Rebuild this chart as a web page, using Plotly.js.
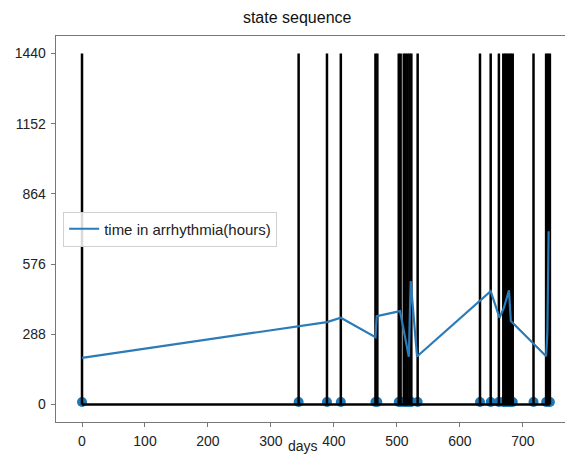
<!DOCTYPE html>
<html>
<head>
<meta charset="utf-8">
<script src="https://cdn.plot.ly/plotly-3.0.1.min.js"></script>
<style>html,body{margin:0;padding:0;background:#fff}#chart{width:565px;height:457px}</style>
</head>
<body>
<div id="chart"></div>
<script>
// stem (state change) days
const stemDays = [0, 344, 389, 411, 466, 469, 503, 506, 511, 514, 517, 520, 523, 533,
  632, 649, 662, 669, 672, 675, 678, 681, 684, 717, 737, 740, 743];
const stemHeight = 1440;
const markerLevel = 10;

// time in arrhythmia (hours) series
const arrDays  = [0, 389, 411, 466, 468, 505, 519, 522, 532, 649, 663, 670, 678, 681, 737, 739, 741];
const arrHours = [191, 338, 356, 276, 362, 383, 196, 506, 197, 465, 356, 397, 468, 342, 198, 296, 711];

const yTicks = [0, 288, 576, 864, 1152, 1440];
const xTicks = [0, 100, 200, 300, 400, 500, 600, 700];

const stemX = [], stemY = [];
stemDays.forEach(d => { stemX.push(d, d, null); stemY.push(0, stemHeight, null); });

const traces = [
  {x: stemDays, y: stemDays.map(() => markerLevel), mode: 'markers', type: 'scatter',
   marker: {color: '#1f77b4', size: 10}, showlegend: false, hoverinfo: 'skip'},
  {x: stemX, y: stemY, mode: 'lines', type: 'scatter',
   line: {color: '#000', width: 2.5}, showlegend: false, hoverinfo: 'skip'},
  {x: [stemDays[0], stemDays[stemDays.length - 1]], y: [0, 0], mode: 'lines', type: 'scatter',
   line: {color: '#000', width: 2.5}, showlegend: false, hoverinfo: 'skip'},
  {x: arrDays, y: arrHours, mode: 'lines', type: 'scatter', name: 'time in arrhythmia(hours)',
   line: {color: '#2b7bb9', width: 2.2}}
];

const axisCommon = {
  showgrid: false, zeroline: false, showline: true, linecolor: '#777', linewidth: 1.3,
  ticks: 'outside', ticklen: 4, tickcolor: '#777', tickwidth: 1,
  tickfont: {family: 'Liberation Sans, Arial, sans-serif', size: 14, color: '#222'}
};

const layout = {
  width: 565, height: 457,
  margin: {l: 56, r: 0, t: 36, b: 35},
  paper_bgcolor: '#fff', plot_bgcolor: '#fff',
  font: {family: 'Liberation Sans, Arial, sans-serif', color: '#222'},
  title: {text: 'state sequence', xref: 'container', x: 0.526, xanchor: 'center',
          yref: 'container', y: 0.962, yanchor: 'middle',
          font: {size: 16, color: '#111'}},
  xaxis: Object.assign({}, axisCommon, {range: [-41.3, 767], tickvals: xTicks,
          ticktext: xTicks.map(String), mirror: true, ticklen: 4, ticklabelstandoff: 2}),
  yaxis: Object.assign({}, axisCommon, {range: [-72, 1512], tickvals: yTicks,
          ticktext: yTicks.map(String), ticklabelstandoff: 2}),
  showlegend: true,
  legend: {x: 0.014, y: 0.5, xanchor: 'left', yanchor: 'middle',
           bgcolor: 'rgba(255,255,255,0.85)', bordercolor: '#d0d0d0', borderwidth: 1,
           font: {size: 15, color: '#222'}, itemwidth: 30, tracegroupgap: 0},
  annotations: [{text: 'days', xref: 'paper', yref: 'paper', x: (303 - 56) / 509, y: -0.089,
                 xanchor: 'center', yanchor: 'bottom', showarrow: false,
                 font: {size: 14, color: '#222'}}]
};

Plotly.newPlot('chart', traces, layout, {displayModeBar: false, staticPlot: true});
</script>
</body>
</html>
